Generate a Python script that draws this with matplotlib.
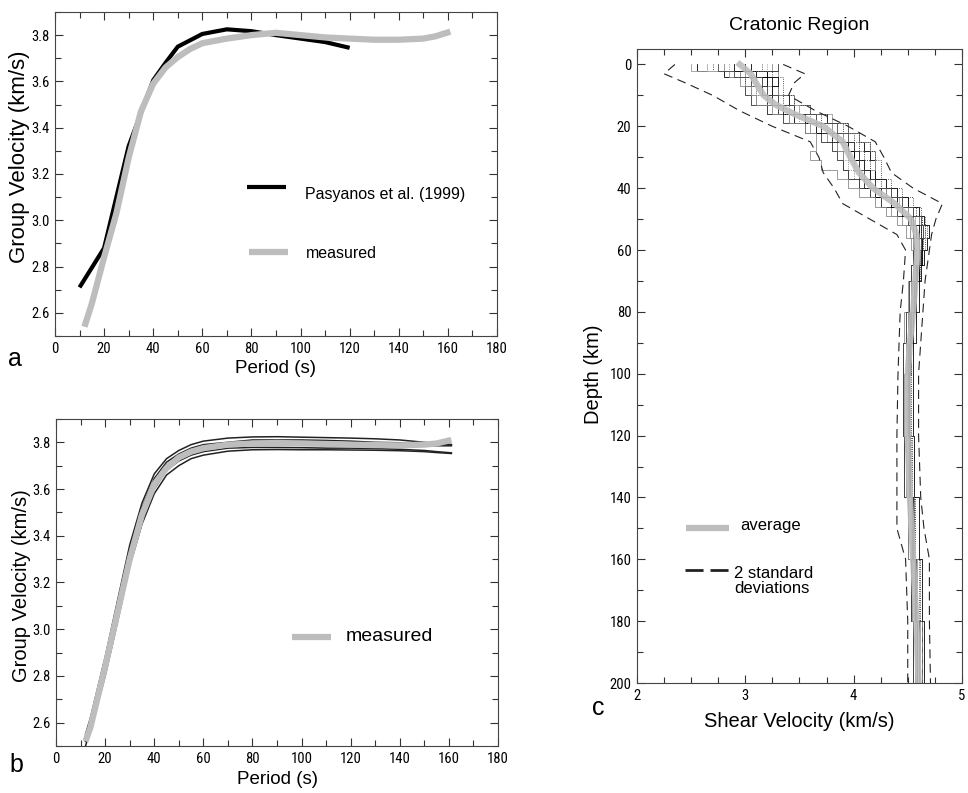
import numpy as np
import matplotlib
matplotlib.use("Agg")
import matplotlib.pyplot as plt
from matplotlib.ticker import MultipleLocator

plt.rcParams['font.family'] = ['Liberation Sans', 'DejaVu Sans']
narrow = ['Roboto Condensed', 'Liberation Sans Narrow', 'DejaVu Sans']

# ---- panel a : group velocity, Pasyanos vs measured
pas_period = [10, 20, 30, 40, 45, 50, 60, 70, 80, 90, 100, 110, 120]
pas_vel = [2.71, 2.88, 3.32, 3.605, 3.68, 3.75, 3.805, 3.825, 3.817, 3.80, 3.785, 3.77, 3.745]

meas_period = [12, 15, 20, 25, 30, 35, 40, 45, 50, 55, 60, 70, 80, 90, 100, 110, 120, 130, 140, 150, 155, 161]
meas_vel = [2.54, 2.64, 2.84, 3.03, 3.27, 3.47, 3.59, 3.66, 3.705, 3.74, 3.765, 3.785, 3.80, 3.81,
            3.80, 3.79, 3.785, 3.78, 3.78, 3.785, 3.795, 3.815]

# ---- panel b : measured curve with individual model curves
b_period = [12, 14, 17, 20, 25, 30, 35, 40, 45, 50, 55, 60, 70, 80, 90, 100, 110, 120, 130, 140, 150, 155, 161]
b_meas = [2.52, 2.58, 2.71, 2.84, 3.07, 3.30, 3.49, 3.62, 3.69, 3.735, 3.76, 3.775, 3.79, 3.795, 3.797,
          3.795, 3.793, 3.79, 3.788, 3.787, 3.79, 3.795, 3.81]
b_upper = [2.55, 2.62, 2.75, 2.88, 3.12, 3.36, 3.54, 3.665, 3.73, 3.765, 3.79, 3.805, 3.818, 3.823, 3.824,
           3.822, 3.82, 3.818, 3.815, 3.81, 3.80, 3.795, 3.79]
b_lower = [2.50, 2.57, 2.68, 2.80, 3.03, 3.27, 3.45, 3.58, 3.66, 3.70, 3.73, 3.745, 3.762, 3.768, 3.769,
           3.768, 3.768, 3.767, 3.766, 3.764, 3.76, 3.756, 3.752]
b_mid1 = [2.53, 2.60, 2.72, 2.85, 3.08, 3.32, 3.50, 3.63, 3.70, 3.74, 3.765, 3.78, 3.79, 3.795, 3.795,
          3.795, 3.793, 3.79, 3.79, 3.788, 3.785, 3.785, 3.785]
b_mid2 = [2.54, 2.61, 2.74, 2.87, 3.10, 3.34, 3.52, 3.645, 3.715, 3.75, 3.775, 3.79, 3.80, 3.81, 3.81,
          3.81, 3.808, 3.805, 3.80, 3.798, 3.795, 3.792, 3.79]
b_mid3 = [2.52, 2.59, 2.70, 2.83, 3.05, 3.29, 3.47, 3.60, 3.68, 3.72, 3.745, 3.76, 3.775, 3.778, 3.778,
          3.777, 3.775, 3.775, 3.773, 3.77, 3.765, 3.76, 3.755]

# ---- panel c : shear velocity models (layer boundaries, km)
layer_bounds = [0, 2, 4, 7, 10, 13, 16, 19, 22, 25, 28, 31, 34, 37, 40, 43, 46, 49, 52, 56, 60, 65, 70,
                80, 90, 100, 120, 140, 160, 180, 200]
models = [
    [2.55, 2.8, 3.25, 3.3, 3.4, 3.6, 3.75, 3.95, 4.05, 4.1, 4.15, 4.2, 4.2, 4.3, 4.4, 4.5, 4.6, 4.65, 4.7, 4.68, 4.65, 4.62, 4.6, 4.58, 4.55, 4.55, 4.56, 4.6, 4.63, 4.65],
    [3.25, 3.3, 3.2, 3.05, 3.1, 3.2, 3.4, 3.6, 3.75, 3.85, 3.9, 3.9, 3.95, 4.05, 4.15, 4.25, 4.35, 4.45, 4.52, 4.55, 4.55, 4.53, 4.5, 4.47, 4.46, 4.46, 4.47, 4.5, 4.53, 4.55],
    [2.7, 2.95, 3.0, 3.25, 3.35, 3.5, 3.7, 3.9, 4.0, 4.05, 4.1, 4.15, 4.2, 4.25, 4.35, 4.5, 4.58, 4.63, 4.66, 4.64, 4.63, 4.61, 4.58, 4.55, 4.53, 4.53, 4.54, 4.57, 4.61, 4.63],
    [3.3, 3.2, 3.05, 3.0, 3.05, 3.2, 3.35, 3.55, 3.7, 3.8, 3.85, 3.9, 3.95, 4.05, 4.15, 4.25, 4.4, 4.5, 4.55, 4.56, 4.55, 4.53, 4.51, 4.48, 4.46, 4.46, 4.47, 4.5, 4.53, 4.55],
    [2.5, 2.85, 3.15, 3.3, 3.45, 3.6, 3.8, 3.95, 4.05, 4.15, 4.2, 4.2, 4.15, 4.2, 4.3, 4.45, 4.55, 4.6, 4.64, 4.63, 4.61, 4.59, 4.57, 4.54, 4.52, 4.51, 4.52, 4.56, 4.59, 4.61],
    [3.0, 3.2, 3.3, 3.25, 3.2, 3.3, 3.45, 3.65, 3.8, 3.95, 4.0, 4.05, 4.05, 4.1, 4.2, 4.35, 4.45, 4.53, 4.6, 4.62, 4.63, 4.6, 4.56, 4.52, 4.5, 4.5, 4.51, 4.54, 4.57, 4.59],
    [2.85, 2.95, 3.1, 3.1, 3.2, 3.4, 3.6, 3.75, 3.85, 3.9, 3.9, 3.95, 4.0, 4.1, 4.25, 4.4, 4.5, 4.6, 4.66, 4.64, 4.61, 4.58, 4.55, 4.52, 4.5, 4.49, 4.5, 4.53, 4.57, 4.59],
    [3.05, 3.0, 3.1, 3.15, 3.3, 3.45, 3.55, 3.8, 3.9, 4.0, 4.0, 4.05, 4.1, 4.2, 4.3, 4.4, 4.5, 4.55, 4.58, 4.6, 4.6, 4.59, 4.56, 4.53, 4.51, 4.51, 4.52, 4.54, 4.57, 4.59],
    [2.8, 2.95, 2.95, 3.05, 3.1, 3.25, 3.4, 3.55, 3.65, 3.65, 3.6, 3.7, 3.85, 3.95, 4.05, 4.2, 4.3, 4.4, 4.48, 4.53, 4.56, 4.55, 4.53, 4.5, 4.48, 4.47, 4.48, 4.5, 4.54, 4.57],
    [3.15, 3.25, 3.35, 3.35, 3.45, 3.6, 3.75, 3.95, 4.05, 4.15, 4.2, 4.25, 4.25, 4.35, 4.45, 4.55, 4.62, 4.66, 4.68, 4.66, 4.63, 4.6, 4.57, 4.55, 4.53, 4.52, 4.53, 4.56, 4.6, 4.63],
    [2.65, 3.0, 3.1, 3.2, 3.3, 3.5, 3.65, 3.8, 3.9, 3.95, 3.95, 4.0, 4.1, 4.2, 4.3, 4.42, 4.5, 4.57, 4.62, 4.62, 4.6, 4.57, 4.54, 4.51, 4.49, 4.49, 4.5, 4.53, 4.56, 4.58],
    [2.9, 3.1, 3.2, 3.15, 3.25, 3.35, 3.55, 3.7, 3.85, 3.95, 4.05, 4.1, 4.15, 4.2, 4.25, 4.35, 4.45, 4.55, 4.62, 4.63, 4.62, 4.6, 4.58, 4.55, 4.52, 4.51, 4.52, 4.55, 4.58, 4.6],
    [3.2, 3.05, 3.0, 3.1, 3.2, 3.3, 3.5, 3.7, 3.8, 3.85, 3.95, 4.0, 4.05, 4.15, 4.3, 4.45, 4.55, 4.6, 4.62, 4.6, 4.58, 4.56, 4.54, 4.51, 4.49, 4.48, 4.49, 4.52, 4.55, 4.57],
    [2.75, 2.9, 3.15, 3.2, 3.3, 3.45, 3.65, 3.85, 3.95, 4.0, 4.05, 4.05, 4.1, 4.2, 4.35, 4.45, 4.55, 4.62, 4.64, 4.62, 4.6, 4.58, 4.56, 4.53, 4.51, 4.5, 4.51, 4.54, 4.58, 4.6],
]
model_styles = [('k', '-'), ('#8a8a8a', '-'), ('k', ':'), ('#333333', '-'), ('#9a9a9a', '-'),
                ('k', '-'), ('#666666', ':'), ('k', '-'), ('#8a8a8a', '-'), ('#222222', ':'),
                ('#aaaaaa', '-'), ('k', '-'), ('#777777', ':'), ('#444444', '-')]

avg_depth = [0, 3, 6, 10, 13, 16, 20, 25, 30, 35, 40, 45, 50, 55, 60, 70, 80, 90, 100, 120, 140, 160, 180, 200]
avg_vel = [2.95, 3.05, 3.1, 3.17, 3.28, 3.45, 3.72, 3.9, 3.97, 4.05, 4.18, 4.38, 4.53, 4.58, 4.59, 4.57,
           4.55, 4.52, 4.5, 4.5, 4.52, 4.55, 4.58, 4.6]

std_depth = [0, 3, 6, 10, 15, 20, 25, 30, 35, 40, 45, 50, 55, 60, 70, 80, 100, 120, 140, 150, 160, 180, 200]
std_left = [2.35, 2.25, 2.45, 2.7, 2.95, 3.25, 3.6, 3.68, 3.72, 3.82, 3.9, 4.15, 4.4, 4.48, 4.46, 4.43,
            4.41, 4.4, 4.4, 4.4, 4.48, 4.5, 4.5]
std_right = [3.35, 3.55, 3.45, 3.4, 3.65, 3.95, 4.2, 4.28, 4.35, 4.55, 4.82, 4.76, 4.72, 4.7, 4.66, 4.64,
             4.6, 4.6, 4.62, 4.65, 4.7, 4.7, 4.71]

GRAY = '#bdbdbd'


def style_axis(ax):
    ax.tick_params(which='both', direction='in', top=True, right=True, width=0.8, color='#333333')
    ax.tick_params(which='major', length=6, labelsize=10.5, pad=4, labelfontfamily=narrow)
    ax.tick_params(which='minor', length=4)
    for sp in ax.spines.values():
        sp.set_linewidth(0.8)
        sp.set_color('#444444')


fig = plt.figure(figsize=(9.68, 7.93), dpi=100)

# panel a
ax1 = fig.add_axes([0.0568, 0.5763, 0.4566, 0.4086])
ax1.plot(pas_period, pas_vel, color='k', lw=3, solid_capstyle='butt')
ax1.plot(meas_period, meas_vel, color=GRAY, lw=4.5, solid_capstyle='butt')
ax1.set_xlim(0, 180)
ax1.set_ylim(2.5, 3.9)
ax1.xaxis.set_major_locator(MultipleLocator(20))
ax1.xaxis.set_minor_locator(MultipleLocator(10))
ax1.yaxis.set_major_locator(MultipleLocator(0.2))
ax1.yaxis.set_minor_locator(MultipleLocator(0.1))
ax1.yaxis.set_major_formatter(plt.FuncFormatter(lambda v, p: '%.1f' % v))
ax1.set_xlabel('Period (s)', fontsize=13.5, labelpad=3)
ax1.set_ylabel('Group Velocity (km/s)', fontsize=16, va='center')
ax1.yaxis.set_label_coords(-0.081, 0.552)
style_axis(ax1)
ax1.plot([78, 94], [3.145, 3.145], color='k', lw=3, solid_capstyle='butt')
ax1.text(102, 3.11, 'Pasyanos et al. (1999)', fontsize=11.5, va='center')
ax1.plot([79, 95], [2.865, 2.865], color=GRAY, lw=4.5, solid_capstyle='butt')
ax1.text(102, 2.857, 'measured', fontsize=11.5, va='center')
fig.text(0.008, 0.539, 'a', fontsize=18)

# panel b
ax2 = fig.add_axes([0.0579, 0.0593, 0.4566, 0.4124])
for curve in [b_upper, b_lower, b_mid1, b_mid2, b_mid3]:
    ax2.plot(b_period, curve, color='#222222', lw=1.1)
ax2.plot(b_period, b_meas, color=GRAY, lw=4.5, solid_capstyle='butt')
ax2.set_xlim(0, 180)
ax2.set_ylim(2.5, 3.9)
ax2.xaxis.set_major_locator(MultipleLocator(20))
ax2.xaxis.set_minor_locator(MultipleLocator(10))
ax2.yaxis.set_major_locator(MultipleLocator(0.2))
ax2.yaxis.set_minor_locator(MultipleLocator(0.1))
ax2.yaxis.set_major_formatter(plt.FuncFormatter(lambda v, p: '%.1f' % v))
ax2.set_xlabel('Period (s)', fontsize=13.5)
ax2.xaxis.set_label_coords(0.5, -0.078)
ax2.set_ylabel('Group Velocity (km/s)', fontsize=14.5, va='center')
ax2.yaxis.set_label_coords(-0.079, 0.49)
style_axis(ax2)
ax2.plot([96, 112], [2.967, 2.967], color=GRAY, lw=4.5, solid_capstyle='butt')
ax2.text(118, 2.967, 'measured', fontsize=14, va='center')
fig.text(0.010, 0.026, 'b', fontsize=18)

# panel c
ax3 = fig.add_axes([0.658, 0.1387, 0.3357, 0.7995])
bounds = np.array(layer_bounds)
for m, (c, ls) in zip(models, model_styles):
    v = np.repeat(m, 2)
    d = np.column_stack([bounds[:-1], bounds[1:]]).ravel()
    ax3.plot(v, d, color=c, ls=ls, lw=0.6)
ax3.plot(std_left, std_depth, color='#222222', lw=0.8, dashes=(8, 5))
ax3.plot(std_right, std_depth, color='#222222', lw=0.8, dashes=(8, 5))
ax3.plot(avg_vel, avg_depth, color=GRAY, lw=4.5, alpha=0.9)
ax3.set_xlim(2, 5)
ax3.set_ylim(200, -5)
ax3.xaxis.set_major_locator(MultipleLocator(1))
ax3.xaxis.set_minor_locator(MultipleLocator(0.25))
ax3.yaxis.set_major_locator(MultipleLocator(20))
ax3.yaxis.set_minor_locator(MultipleLocator(10))
ax3.set_xlabel('Shear Velocity (km/s)', fontsize=14.5, labelpad=7)
ax3.set_ylabel('Depth (km)', fontsize=14.5, va='center')
ax3.yaxis.set_label_coords(-0.135, 0.487)
ax3.set_title('Cratonic Region', fontsize=14, pad=14)
style_axis(ax3)
ax3.plot([2.45, 2.85], [150, 150], color=GRAY, lw=4.5, solid_capstyle='butt')
ax3.text(2.95, 149, 'average', fontsize=12, va='center')
ax3.plot([2.44, 2.86], [163.3, 163.3], color='#222222', lw=2, dashes=(6.5, 2.5))
ax3.text(2.9, 167, '2 standard\ndeviations', fontsize=12, va='center', linespacing=1.05)
fig.text(0.612, 0.098, 'c', fontsize=18)

fig.savefig('out.png', dpi=100)
